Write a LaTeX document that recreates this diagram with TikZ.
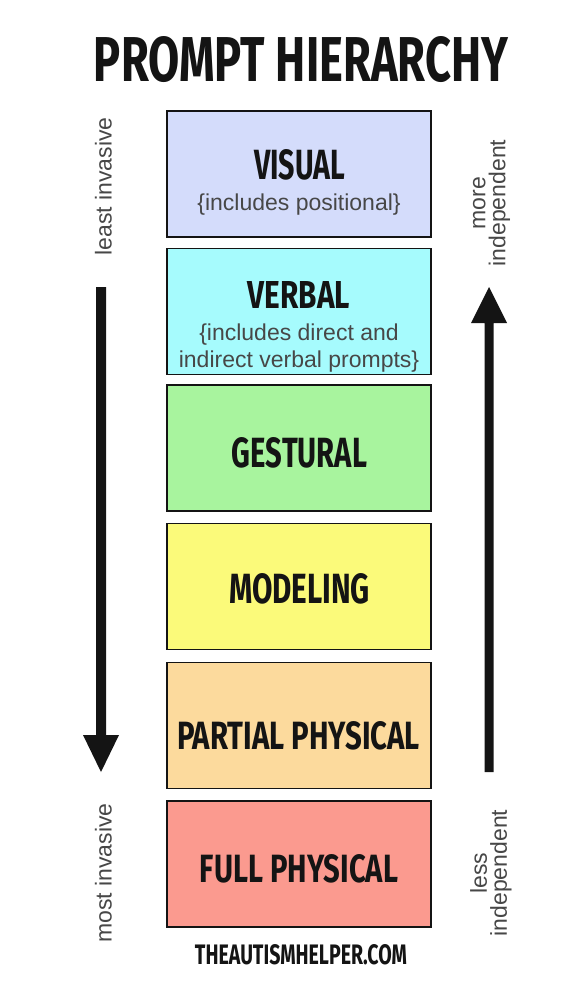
\documentclass[tikz,border=0pt]{standalone}
\usepackage{fontspec}
\setmainfont{Liberation Sans}
\newfontfamily\headfont{Fira Sans}
\usetikzlibrary{positioning}
\definecolor{cvisual}{RGB}{212,220,251}
\definecolor{cverbal}{RGB}{166,251,253}
\definecolor{cgestural}{RGB}{168,244,158}
\definecolor{cmodeling}{RGB}{251,250,122}
\definecolor{cpartial}{RGB}{252,218,157}
\definecolor{cfull}{RGB}{251,154,143}
\definecolor{ink}{RGB}{20,20,20}
\newcommand{\headtxt}[3]{\resizebox{#1pt}{#2pt}{\headfont\bfseries #3}}
\tikzset{
  levelbox/.style={draw=ink, line width=1.5pt, minimum width=264pt, minimum height=126pt, inner sep=0pt, outer sep=0pt},
  head/.style={inner sep=0pt, outer sep=0pt, text=ink},
  sub/.style={inner sep=0pt, font=\fontsize{23}{27}\selectfont, text=black!72},
  side/.style={inner sep=0pt, rotate=90, align=center, font=\fontsize{23}{20}\selectfont, text=black!72},
}
\begin{document}
\begin{tikzpicture}[x=1pt,y=-1pt]
\fill[white] (0,0) rectangle (574,985);
\useasboundingbox (0,0) rectangle (574,985);

% title
\node[head] (title) at (301,59.5) {\headtxt{414}{45}{PROMPT HIERARCHY}};

% boxes
\node[levelbox, fill=cvisual]   (visual)   at (299,174)   {};
\node[levelbox, fill=cverbal]   (verbal)   at (299,311.5) {};
\node[levelbox, fill=cgestural] (gestural) at (299,448)   {};
\node[levelbox, fill=cmodeling] (modeling) at (299,586.5) {};
\node[levelbox, fill=cpartial]  (partial)  at (299,725.5) {};
\node[levelbox, fill=cfull]     (full)     at (299,864)   {};

% headings
\node[head] (visualh)   at (299.5,165)   {\headtxt{91}{30}{VISUAL}};
\node[sub, anchor=base] (visuals) at (299,210) {\{includes positional\}};
\node[head] (verbalh)   at (299,295)     {\headtxt{102}{27}{VERBAL}};
\node[sub, anchor=base] (verbals1) at (299,340) {\{includes direct and};
\node[sub, anchor=base] (verbals2) at (299,367) {indirect verbal prompts\}};
\node[head] (gesturalh) at (299.5,452.5) {\headtxt{135}{30}{GESTURAL}};
\node[head] (modelingh) at (299.5,588.5) {\headtxt{141}{30}{MODELING}};
\node[head] (partialh)  at (298.5,736)   {\headtxt{243}{28}{PARTIAL PHYSICAL}};
\node[head] (fullh)     at (299,869)     {\headtxt{198}{28}{FULL PHYSICAL}};

% footer
\node[head] (footer) at (301,955) {\headtxt{212}{20}{THEAUTISMHELPER.COM}};

% side labels
\node[side] (least) at (103.5,186.5) {least invasive};
\node[side] (most)  at (103.5,873)   {most invasive};
\node[side] (more)  at (491.5,203)   {more\\independent};
\node[side] (less)  at (491,873)     {less\\independent};

% left arrow (down)
\coordinate (la1) at (96,287);
\coordinate (la2) at (106,287);
\coordinate (la3) at (106,735);
\coordinate (la4) at (119,735);
\coordinate (la5) at (101,772);
\coordinate (la6) at (83,735);
\coordinate (la7) at (96,735);
\fill[ink] (la1) -- (la2) -- (la3) -- (la4) -- (la5) -- (la6) -- (la7) -- cycle;

% right arrow (up)
\coordinate (ra1) at (484.5,772);
\coordinate (ra2) at (493.5,772);
\coordinate (ra3) at (493.5,323);
\coordinate (ra4) at (507,323);
\coordinate (ra5) at (489,287);
\coordinate (ra6) at (471,323);
\coordinate (ra7) at (484.5,323);
\fill[ink] (ra1) -- (ra2) -- (ra3) -- (ra4) -- (ra5) -- (ra6) -- (ra7) -- cycle;
\end{tikzpicture}
\end{document}
